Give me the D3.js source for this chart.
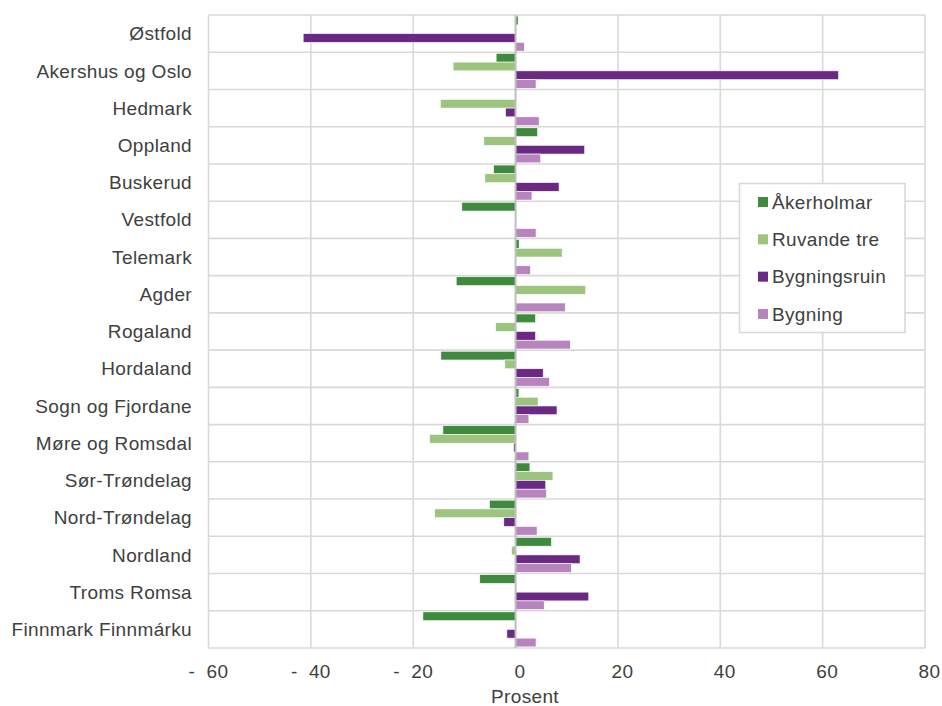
<!DOCTYPE html>
<html>
<head>
<meta charset="utf-8">
<script src="https://cdn.jsdelivr.net/npm/d3@7"></script>
<style>
  html, body { margin: 0; padding: 0; background: #fff; }
  svg { display: block; font-family: "Liberation Sans", Arial, sans-serif; }
</style>
</head>
<body>
<svg id="chart" width="942" height="706"></svg>
<script>
const categories = ["Østfold", "Akershus og Oslo", "Hedmark", "Oppland", "Buskerud", "Vestfold", "Telemark", "Agder", "Rogaland", "Hordaland", "Sogn og Fjordane", "Møre og Romsdal", "Sør-Trøndelag", "Nord-Trøndelag", "Nordland", "Troms Romsa", "Finnmark Finnmárku"];
const seriesNames = ["Åkerholmar", "Ruvande tre", "Bygningsruin", "Bygning"];
const akerholmar   = [0.5, -3.8, 0, 4.3, -4.3, -10.5, 0.7, -11.6, 3.9, -14.6, 0.65, -14.2, 2.8, -5.1, 7.0, -7.0, -18.1];
const ruvandeTre   = [0, -12.2, -14.7, -6.2, -6.0, 0, 9.1, 13.7, -3.9, -2.1, 4.4, -16.8, 7.3, -15.8, -0.8, 0, 0];
const bygningsruin = [-41.5, 63.1, -1.95, 13.5, 8.5, 0, 0, 0, 3.9, 5.4, 8.1, -0.4, 5.9, -2.3, 12.6, 14.3, -1.7];
const bygning      = [1.7, 4.0, 4.6, 4.9, 3.2, 4.0, 2.9, 9.7, 10.7, 6.6, 2.6, 2.6, 6.0, 4.2, 10.9, 5.6, 4.0];
const seriesColors = ["#3f8a3f", "#9dc47f", "#6a2a84", "#b784bd"];
const xTicks = [-60, -40, -20, 0, 20, 40, 60, 80];
const xTitle = "Prosent";

const seriesValues = [akerholmar, ruvandeTre, bygningsruin, bygning];

const svg = d3.select("#chart");
const pLeft = 208.5, pRight = 925, pTop = 15, pBottom = 648;
const textColor = "#404040";
const gridColor = "#d9d9d9";
const fontSize = 19;
const letterSp = "0.35px";

const x = d3.scaleLinear().domain([-60, 80]).range([pLeft, pRight]);
const y0 = d3.scaleBand().domain(categories).range([pTop, pBottom]).paddingInner(0.06).paddingOuter(0.03);
const y1 = d3.scaleBand().domain(seriesNames).range([0, y0.bandwidth()]).padding(0);

// vertical gridlines
svg.append("g").selectAll("line").data(xTicks.filter(d => d !== 0)).join("line")
  .attr("x1", d => x(d)).attr("x2", d => x(d))
  .attr("y1", pTop).attr("y2", pBottom)
  .attr("stroke", gridColor).attr("stroke-width", 1.6);

// horizontal gridlines at category boundaries
const boundaries = d3.range(categories.length + 1).map(i => pTop + i * (pBottom - pTop) / categories.length);
svg.append("g").selectAll("line").data(boundaries).join("line")
  .attr("x1", pLeft).attr("x2", pRight)
  .attr("y1", d => d).attr("y2", d => d)
  .attr("stroke", gridColor).attr("stroke-width", 1.6);

// bars
const groups = svg.append("g").selectAll("g").data(categories).join("g")
  .attr("transform", d => `translate(0,${y0(d)})`);
groups.selectAll("rect")
  .data((c, i) => seriesNames.map((s, j) => ({ s, j, v: seriesValues[j][i] })).filter(d => d.v !== 0))
  .join("rect")
  .attr("x", d => x(Math.min(0, d.v)))
  .attr("width", d => Math.abs(x(d.v) - x(0)))
  .attr("y", d => y1(d.s))
  .attr("height", y1.bandwidth())
  .attr("fill", d => seriesColors[d.j])
  .attr("stroke", "#ffffff").attr("stroke-width", 0.6);

// zero line
svg.append("line")
  .attr("x1", x(0)).attr("x2", x(0)).attr("y1", pTop).attr("y2", pBottom)
  .attr("stroke", "#bfbfbf").attr("stroke-width", 2);

// category labels
svg.append("g").selectAll("text").data(categories).join("text")
  .attr("x", 192)
  .attr("y", d => y0(d) + y0.bandwidth() / 2)
  .attr("dy", "0.35em")
  .attr("text-anchor", "end")
  .attr("font-size", fontSize)
  .attr("letter-spacing", letterSp)
  .attr("fill", textColor)
  .text(d => d);

// x tick labels (accounting style)
svg.append("g").selectAll("text").data(xTicks).join("text")
  .attr("x", d => x(d) + (d >= 0 ? 4.5 : 0))
  .attr("y", 678)
  .attr("text-anchor", "middle")
  .attr("font-size", fontSize)
  .attr("letter-spacing", letterSp)
  .attr("fill", textColor)
  .style("white-space", "pre")
  .text(d => d < 0 ? "-  " + Math.abs(d) : String(d));

svg.append("text")
  .attr("x", 525).attr("y", 703)
  .attr("text-anchor", "middle")
  .attr("font-size", fontSize)
  .attr("letter-spacing", letterSp)
  .attr("fill", textColor)
  .text(xTitle);

// legend
const lg = svg.append("g");
lg.append("rect")
  .attr("x", 739.5).attr("y", 183.5).attr("width", 165.5).attr("height", 149)
  .attr("fill", "#fff").attr("stroke", gridColor).attr("stroke-width", 1.6);
const legendY = d3.scalePoint().domain(seriesNames).range([202, 314]);
const items = lg.selectAll("g").data(seriesNames).join("g")
  .attr("transform", d => `translate(0,${legendY(d)})`);
items.append("rect")
  .attr("x", 758).attr("y", -5).attr("width", 10).attr("height", 10)
  .attr("fill", (d, i) => seriesColors[i]);
items.append("text")
  .attr("x", 772).attr("dy", "0.35em")
  .attr("font-size", fontSize)
  .attr("letter-spacing", letterSp)
  .attr("fill", textColor)
  .text(d => d);
</script>
</body>
</html>
